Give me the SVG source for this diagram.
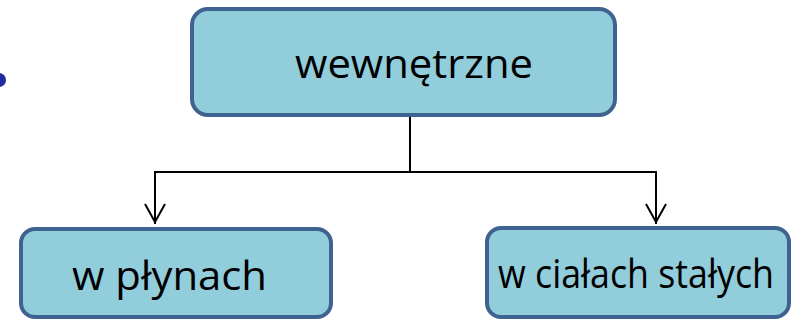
<svg xmlns="http://www.w3.org/2000/svg" width="792" height="321" viewBox="0 0 792 321">
  <defs>
    <style>
      .box { fill: #92CDDC; stroke: #3F6290; stroke-width: 4; }
      .label { font-family: "Open Sans", "Noto Sans", "Liberation Sans", sans-serif; font-size: 40px; fill: #000; }
      .link { fill: none; stroke: #000; stroke-width: 2; }
      .head { fill: none; stroke: #000; stroke-width: 2; stroke-linejoin: miter; }
    </style>
  </defs>
  <rect width="792" height="321" fill="#fff"/>
  <!-- bullet at left edge -->
  <circle cx="-1" cy="80" r="7" fill="#1F2DA0"/>

  <g id="node-wewnetrzne">
    <rect class="box" x="192" y="9" width="423" height="106" rx="16"/>
    <text class="label" x="295" y="78" textLength="238" lengthAdjust="spacingAndGlyphs">wewnętrzne</text>
  </g>

  <g id="node-w-plynach">
    <rect class="box" x="21" y="229" width="310" height="88" rx="14"/>
    <text class="label" x="72" y="290" textLength="195" lengthAdjust="spacingAndGlyphs">w płynach</text>
  </g>

  <g id="node-w-cialach-stalych">
    <rect class="box" x="487" y="228" width="302" height="89" rx="14"/>
    <text class="label" x="498" y="288" textLength="276" lengthAdjust="spacingAndGlyphs">w ciałach stałych</text>
  </g>

  <g id="connectors">
    <polyline class="link" points="410,117 410,172"/>
    <polyline class="link" points="155,224 155,172 656,172 656,224"/>
    <polyline class="head" points="145,204 155,222 165,204"/>
    <polyline class="head" points="646,204 656,222 666,204"/>
  </g>
</svg>
